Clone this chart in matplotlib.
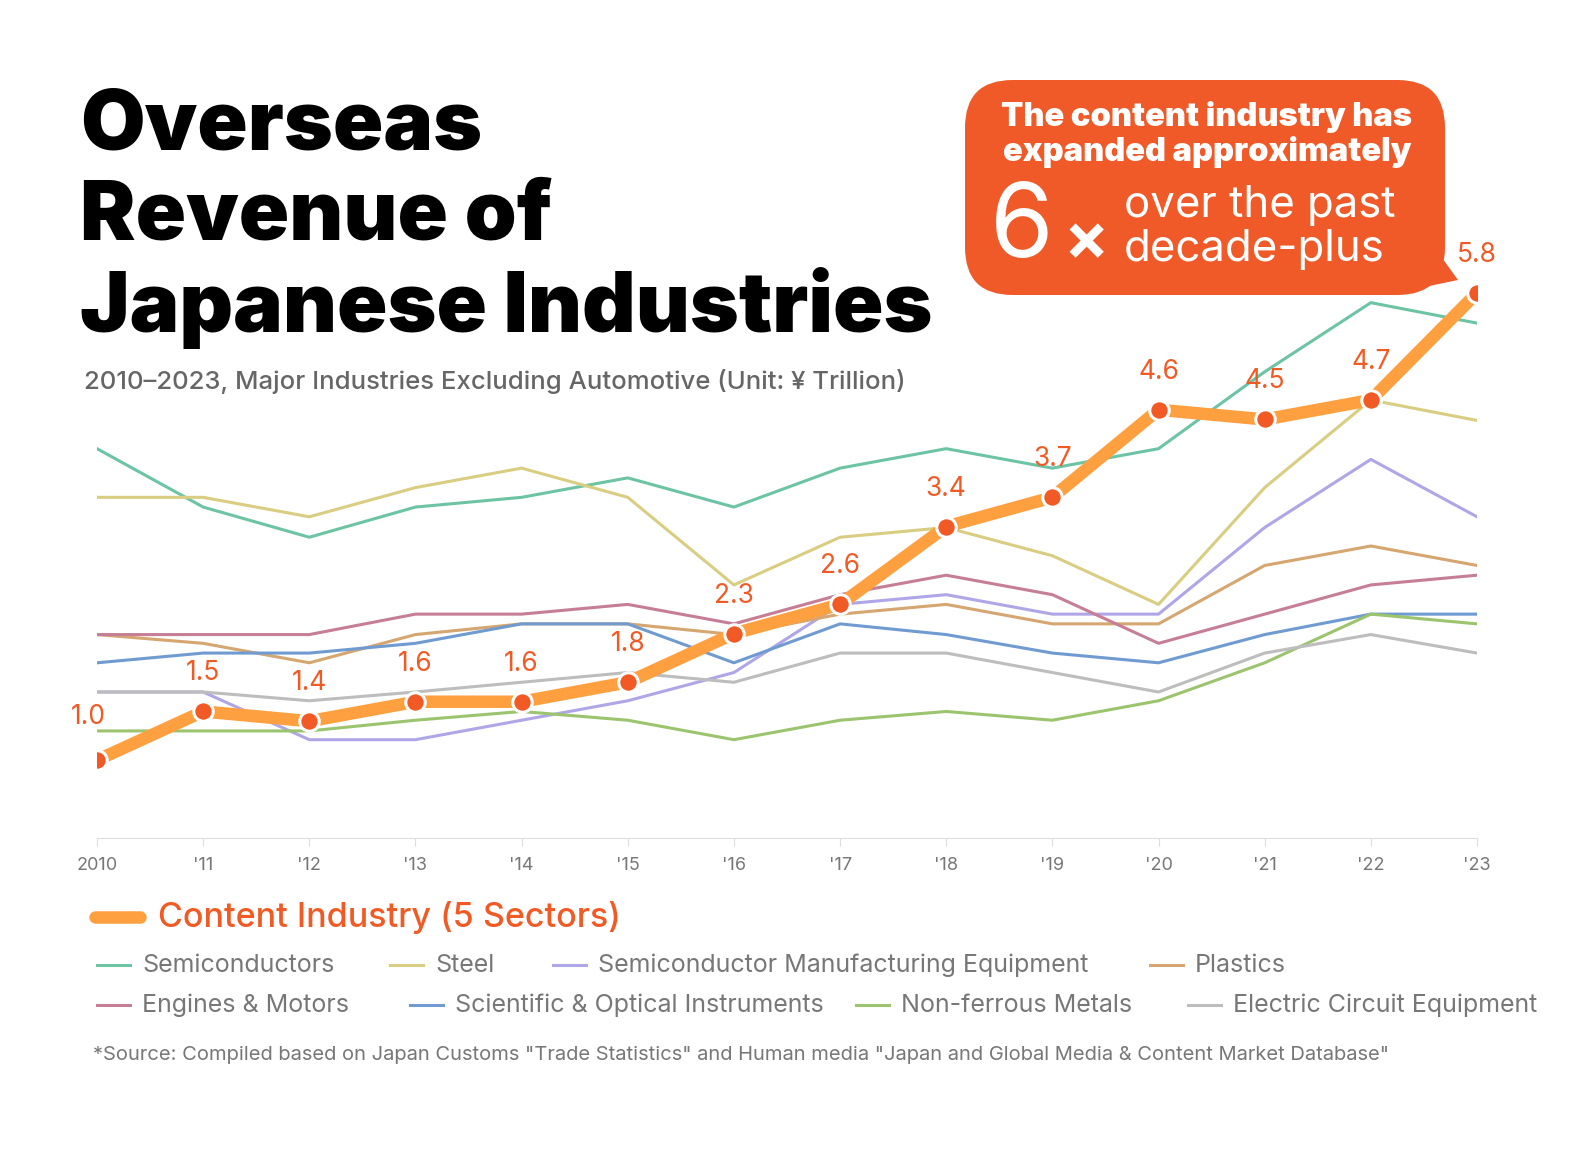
import matplotlib
matplotlib.use("Agg")
import matplotlib.pyplot as plt
from matplotlib.patches import FancyBboxPatch, Polygon
from matplotlib.lines import Line2D

years = list(range(2010, 2024))
tick_labels = ["2010","'11","'12","'13","'14","'15","'16","'17","'18","'19","'20","'21","'22","'23"]
content = [1.0,1.5,1.4,1.6,1.6,1.8,2.3,2.6,3.4,3.7,4.6,4.5,4.7,5.8]
semis = [4.20,3.60,3.29,3.60,3.70,3.90,3.60,4.00,4.20,4.00,4.20,4.99,5.70,5.49]
steel = [3.70,3.70,3.50,3.80,4.00,3.70,2.80,3.29,3.39,3.10,2.60,3.80,4.70,4.49]
sme = [1.70,1.70,1.21,1.21,1.41,1.61,1.90,2.60,2.70,2.50,2.50,3.39,4.09,3.50]
plastics = [2.29,2.20,2.00,2.29,2.40,2.40,2.29,2.50,2.60,2.40,2.40,3.00,3.20,3.00]
engines = [2.29,2.29,2.29,2.50,2.50,2.60,2.40,2.70,2.90,2.70,2.20,2.50,2.80,2.90]
optical = [2.00,2.10,2.10,2.20,2.40,2.40,2.00,2.40,2.29,2.10,2.00,2.29,2.50,2.50]
nonferrous = [1.30,1.30,1.30,1.41,1.50,1.41,1.21,1.41,1.50,1.41,1.61,2.00,2.50,2.40]
circuit = [1.70,1.70,1.61,1.70,1.80,1.90,1.80,2.10,2.10,1.90,1.70,2.10,2.29,2.10]

series = [
    ("Semiconductors", semis, "#6CC4A4"),
    ("Steel", steel, "#D9CD82"),
    ("Semiconductor Manufacturing Equipment", sme, "#AFA6E8"),
    ("Plastics", plastics, "#D5A670"),
    ("Engines & Motors", engines, "#C57E96"),
    ("Scientific & Optical Instruments", optical, "#6F9BD1"),
    ("Non-ferrous Metals", nonferrous, "#9CC46E"),
    ("Electric Circuit Equipment", circuit, "#BDBDBD"),
]

plt.rcParams['font.family'] = ['Inter', 'DejaVu Sans']
W, H = 1586, 1162
fig = plt.figure(figsize=(W/100, H/100), dpi=100)
fig.patch.set_facecolor("white")

def fx(px): return px / W
def fy(py): return 1 - py / H

ax = fig.add_axes([fx(97), fy(838), fx(1477) - fx(97), fy(254) - fy(838)])
ax.set_xlim(2010, 2023)
ax.set_ylim(0.2, 6.2)
ax.set_facecolor("none")
for s in ["top", "right", "left"]:
    ax.spines[s].set_visible(False)
ax.spines["bottom"].set_color("#DDDDDD")
ax.set_yticks([])
ax.set_xticks(years)
ax.set_xticklabels(tick_labels, fontsize=13, color="#777777")
ax.tick_params(axis="x", length=6, color="#DDDDDD", pad=8)

for name, vals, c in series:
    ax.plot(years, vals, color=c, lw=2.2, zorder=2)
ax.plot(years, content, color="#FFA040", lw=9, solid_capstyle="round", zorder=4)
ax.plot(years, content, "o", ms=14, mfc="#F15A24", mec="white", mew=2.2, zorder=5)
for i, (x, v) in enumerate(zip(years, content)):
    dy = 18 if i > 0 else 22
    dx = -6 if i == 0 else 0
    ax.annotate(f"{v:.1f}", (x, v), xytext=(dx, dy), textcoords="offset points",
                ha="center", va="bottom", fontsize=19, color="#F15A24", zorder=6)

for i, line in enumerate(["Overseas", "Revenue of", "Japanese Industries"]):
    fig.text(fx(80), fy(128 + i * 90), line, fontsize=60, fontweight="black", va="center", ha="left", color="black")
fig.text(fx(84), fy(381), "2010–2023, Major Industries Excluding Automotive (Unit: ¥ Trillion)",
         fontsize=18.5, color="#666666", va="center", ha="left", fontweight="medium")

box = FancyBboxPatch((fx(965), fy(295)), fx(1445) - fx(965), fy(80) - fy(295),
                     boxstyle="round,pad=0,rounding_size=0.03", transform=fig.transFigure,
                     fc="#F05A28", ec="none", mutation_aspect=W / H)
fig.patches.append(box)
tail = Polygon([(fx(1410), fy(290)), (fx(1440), fy(255)), (fx(1458), fy(280))], closed=True,
               transform=fig.transFigure, fc="#F05A28", ec="none")
fig.patches.append(tail)
fig.text(fx(1207), fy(117), "The content industry has", fontsize=23.5, fontweight="black", color="white", ha="center", va="center")
fig.text(fx(1207), fy(152), "expanded approximately", fontsize=23.5, fontweight="black", color="white", ha="center", va="center")
fig.text(fx(990), fy(230), "6", fontsize=74, color="white", ha="left", va="center")
fig.text(fx(1063), fy(243), "×", fontsize=48, fontweight="bold", color="white", ha="left", va="center")
fig.text(fx(1124), fy(206), "over the past", fontsize=31.5, color="white", ha="left", va="center")
fig.text(fx(1124), fy(250), "decade-plus", fontsize=31.5, color="white", ha="left", va="center")

fig.add_artist(Line2D([fx(95), fx(140)], [fy(917), fy(917)], color="#FFA040", lw=9, solid_capstyle="round"))
fig.text(fx(158), fy(917), "Content Industry (5 Sectors)", fontsize=24.5, color="#F15A24", va="center", ha="left", fontweight="medium")
pos = [(97, 965), (390, 965), (553, 965), (1150, 965), (97, 1005), (410, 1005), (856, 1005), (1188, 1005)]
for (name, vals, c), (px, py) in zip(series, pos):
    fig.add_artist(Line2D([fx(px), fx(px + 33)], [fy(py), fy(py)], color=c, lw=2.2))
    fig.text(fx(px + 45), fy(py), name, fontsize=18, color="#777777", va="center", ha="left")
fig.text(fx(93), fy(1055), '*Source: Compiled based on Japan Customs "Trade Statistics" and Human media "Japan and Global Media & Content Market Database"',
         fontsize=14.5, color="#777777", va="center", ha="left")

fig.savefig("out.png", dpi=100, facecolor="white")
